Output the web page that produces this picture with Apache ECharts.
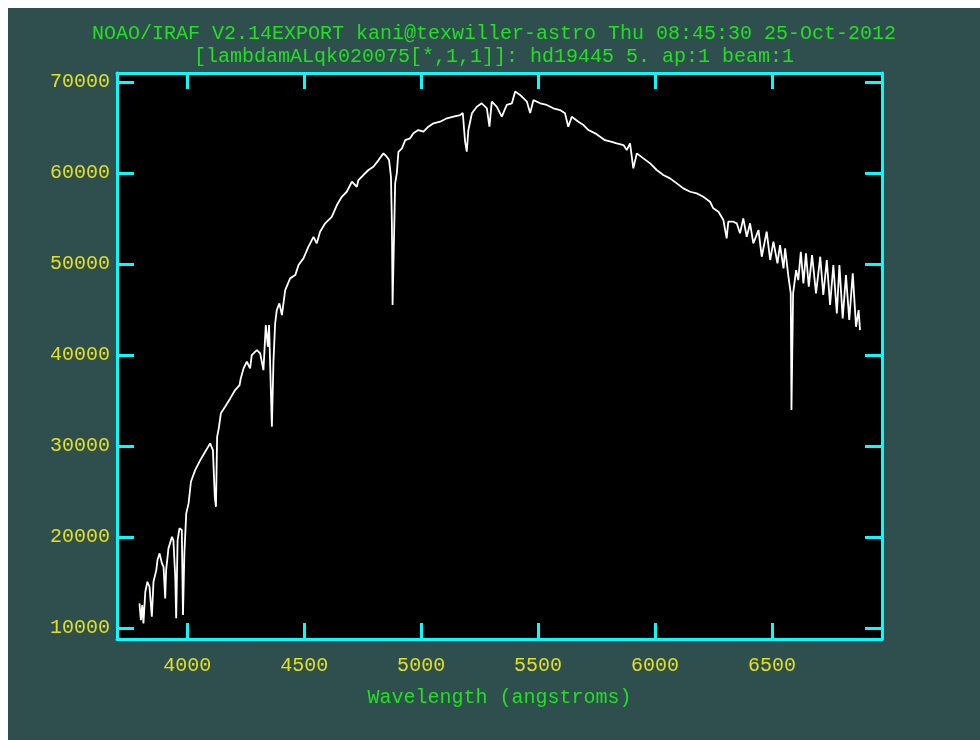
<!DOCTYPE html>
<html>
<head>
<meta charset="utf-8">
<script src="https://cdn.jsdelivr.net/npm/echarts@6/dist/echarts.min.js"></script>
<style>
body{margin:0;background:#fff;}
#main{position:absolute;left:8px;top:8px;width:972px;height:732px;background:#2f4f4f;}
</style>
</head>
<body>
<div id="main"></div>
<script>
// wavelength (angstroms) and flux
var wave = [3796,3802,3808,3813,3821,3830,3839,3849,3856,3868,3873,3882,3892,3899,3906,3910,3920,3935,3941,3949,
	3953,3959,3967,3977,3982,3988,3996,4006,4016,4034,4056,4077,4098,4110,4118,4123,4128,4135,4144,4162,
	4184,4205,4224,4229,4241,4255,4269,4276,4298,4312,4326,4336,4345,4350,4362,4369,4376,4383,4394,4405,
	4419,4440,4462,4476,4497,4518,4540,4554,4568,4590,4618,4640,4661,4682,4704,4725,4732,4753,4775,4796,
	4818,4839,4853,4863,4871,4875,4878,4882,4889,4896,4903,4918,4932,4953,4967,4988,5010,5031,5053,5081,
	5110,5138,5167,5178,5188,5195,5202,5217,5238,5259,5281,5292,5302,5323,5345,5366,5388,5402,5423,5452,
	5466,5480,5509,5537,5565,5594,5615,5629,5644,5672,5694,5715,5744,5765,5786,5815,5836,5865,5879,5893,
	5907,5922,5950,5979,6007,6035,6064,6093,6121,6150,6178,6206,6235,6249,6271,6292,6306,6313,6335,6349,
	6363,6377,6392,6406,6420,6442,6456,6477,6492,6506,6523,6534,6549,6556,6570,6580,6583,6587,6590,6603,
	6612,6623,6634,6645,6657,6671,6688,6706,6719,6734,6748,6762,6777,6788,6802,6816,6830,6845,6859,6870,6876];
var flux = [12710,10880,12530,10520,13990,15090,14540,11240,15090,16370,17470,18210,17110,16740,13260,16370,18760,20030,19670,15640,
	11070,19670,20960,20770,11430,18210,22610,23700,26080,27360,28460,29380,30300,29560,24430,23330,31020,31950,33600,34320,
	35240,36160,36710,37440,38540,39270,38540,40000,40550,40190,38350,43300,40920,43300,32120,39450,43490,44950,45680,44400,
	47150,48430,48790,49890,50630,51900,53000,52280,53560,54480,55200,56490,57400,57950,59050,58500,59240,59790,60340,60700,
	61430,62170,61800,61430,59600,54480,45500,45500,58870,59970,62340,62720,63630,63820,64370,64730,64550,65100,65470,65650,
	66020,66200,66380,66600,63450,62350,64730,66570,67300,67670,67120,65100,67860,67300,66200,67490,67670,68960,68590,67860,
	66590,68020,67670,67490,67120,66930,66570,65100,66190,65640,65280,64730,64370,64000,63620,63440,63270,63080,62530,63270,
	60520,62170,61620,61070,60340,59790,59420,58870,58320,57950,57770,57400,56850,56130,55750,54840,52830,54660,54660,54480,
	53380,55030,53000,54480,52280,53740,50810,53560,50450,52460,50080,52090,49530,51730,48610,46780,33960,33960,46780,49340,
	48240,51360,47880,51180,47510,50990,46780,50810,46600,50440,45500,49890,44580,49890,44040,48790,43850,48980,43110,44950,42750];

var xTicks = [4000,4500,5000,5500,6000,6500];
var yTicks = [10000,20000,30000,40000,50000,60000,70000];

var titleText = "NOAO/IRAF V2.14EXPORT kani@texwiller-astro Thu 08:45:30 25-Oct-2012\n[lambdamALqk020075[*,1,1]]: hd19445 5. ap:1 beam:1";

var cyan = '#00ffff';
var yellow = '#e0e020';
var green = '#20e020';
var font = 'Liberation Mono';

var points = [];
for (var i = 0; i < wave.length; i++) {
	points.push([wave[i], flux[i]]);
}

function plain(v){
	return String(v);
}

function frameX(pos, labels) {
	return {
		type: 'value', position: pos, min: 3700, max: 6970,
		splitLine: {show: false},
		axisLine: {show: true, onZero: false, lineStyle: {color: cyan, width: 3}},
		axisTick: {show: true, inside: true, length: 16, customValues: xTicks, lineStyle: {color: cyan, width: 3}},
		axisLabel: {show: labels, customValues: xTicks, formatter: plain, margin: 17, color: yellow, fontFamily: font, fontSize: 20},
		name: labels ? 'Wavelength (angstroms)' : '',
		nameLocation: 'middle', nameGap: 49,
		nameTextStyle: {color: green, fontFamily: font, fontSize: 20}
	};
}
function frameY(pos, labels) {
	return {
		type: 'value', position: pos, min: 8800, max: 71000,
		splitLine: {show: false},
		axisLine: {show: true, onZero: false, lineStyle: {color: cyan, width: 3}},
		axisTick: {show: true, inside: true, length: 17, customValues: yTicks, lineStyle: {color: cyan, width: 3}},
		axisLabel: {show: labels, customValues: yTicks, formatter: plain, margin: 7, color: yellow, fontFamily: font, fontSize: 20}
	};
}

var myChart = echarts.init(document.getElementById('main'));
var option = {
	animation: false,
	title: {
		text: titleText, left: 'center', top: 9,
		textStyle: {color: green, fontFamily: font, fontSize: 20, fontWeight: 'normal', lineHeight: 23}
	},
	grid: {left: 109, right: 98, top: 65, bottom: 101, show: true, backgroundColor: '#000', borderWidth: 0},
	xAxis: [frameX('bottom', true), frameX('top', false)],
	yAxis: [frameY('left', true), frameY('right', false)],
	series: [{
		type: 'line',
		data: points,
		showSymbol: false,
		lineStyle: {color: '#fff', width: 1.8},
		z: 1
	}]
};
myChart.setOption(option);
</script>
</body>
</html>
